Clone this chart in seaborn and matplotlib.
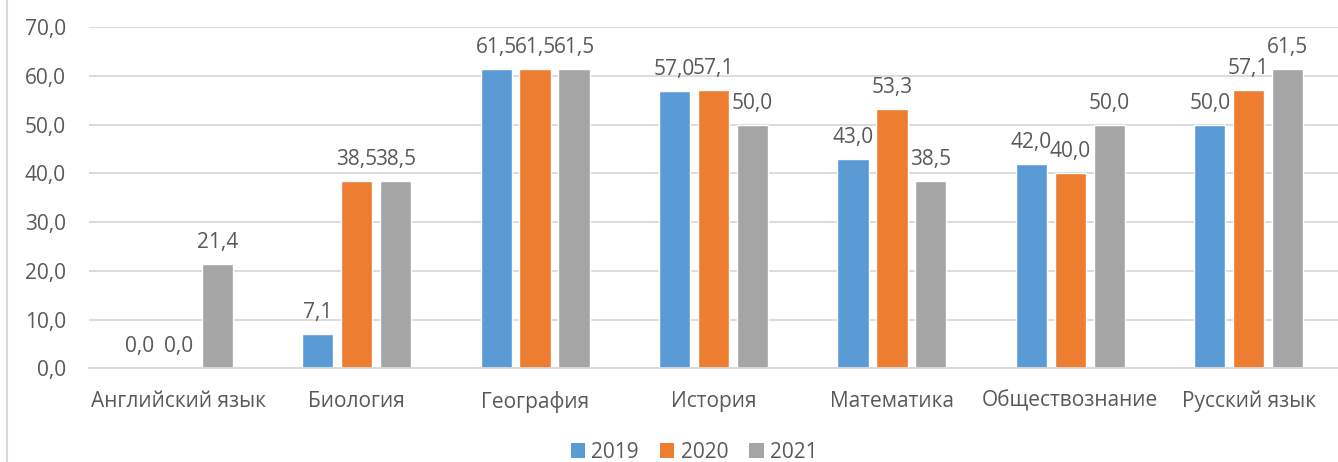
import matplotlib
matplotlib.use("Agg")
import matplotlib.pyplot as plt
import seaborn as sns
import pandas as pd
from matplotlib.lines import Line2D
from matplotlib.patches import Patch

subjects = ["Английский язык", "Биология", "География", "История",
            "Математика", "Обществознание", "Русский язык"]
years = ["2019", "2020", "2021"]
v2019 = [0.0, 7.1, 61.5, 57.0, 43.0, 42.0, 50.0]
v2020 = [0.0, 38.5, 61.5, 57.1, 53.3, 40.0, 57.1]
v2021 = [21.4, 38.5, 61.5, 50.0, 38.5, 50.0, 61.5]
yticks = [0, 10, 20, 30, 40, 50, 60, 70]
colors = ["#5B9BD5", "#ED7D31", "#A5A5A5"]

series = [v2019, v2020, v2021]
rows = []
for yr, vals in zip(years, series):
    for s, v in zip(subjects, vals):
        rows.append({"subject": s, "year": yr, "value": v})
df = pd.DataFrame(rows)

sns.set_style("white")
plt.rcParams["font.family"] = ["Open Sans", "DejaVu Sans"]
text_color = "#595959"
fs = 15

fig = plt.figure(figsize=(13.38, 4.62), dpi=100)
ax = fig.add_axes([89 / 1338, 1 - 368.3 / 462, 1 - 89 / 1338, (368.3 - 27.3) / 462])

sns.barplot(data=df, x="subject", y="value", hue="year", order=subjects,
            hue_order=years, palette=colors, width=0.655, gap=0.2,
            saturation=1, ax=ax, legend=False)

ax.set_xlim(-0.5, 6.5)
ax.set_ylim(0, 70)
ax.set_yticks(yticks)
ax.set_yticklabels([f"{t:.1f}".replace(".", ",") for t in yticks])
ax.yaxis.grid(True, color="#D9D9D9", linewidth=1.3)
ax.set_axisbelow(True)
for sp in ["top", "right", "left"]:
    ax.spines[sp].set_visible(False)
ax.spines["bottom"].set_color("#D9D9D9")
ax.spines["bottom"].set_linewidth(1.3)
ax.set_xlabel("")
ax.set_ylabel("")
ax.tick_params(axis="y", length=0, pad=16.5, labelsize=fs, labelcolor=text_color)
ax.tick_params(axis="x", length=0, pad=16, labelsize=fs, labelcolor=text_color)

for cont, vals in zip(ax.containers, series):
    ax.bar_label(cont, labels=[f"{v:.1f}".replace(".", ",") for v in vals],
                 padding=8, fontsize=fs, color=text_color)

handles = [Patch(facecolor=c, edgecolor="none") for c in colors]
fig.legend(handles, years, loc="center", bbox_to_anchor=(694 / 1338, 1 - 452 / 462),
           ncol=3, frameon=False, fontsize=fs, handlelength=0.7, handleheight=0.7,
           handletextpad=0.3, columnspacing=1.0, labelcolor=text_color)

fig.add_artist(Line2D([7 / 1338, 7 / 1338], [0, 1], transform=fig.transFigure,
                      color="#D9D9D9", linewidth=1.5))

fig.savefig("out.png", dpi=100)
